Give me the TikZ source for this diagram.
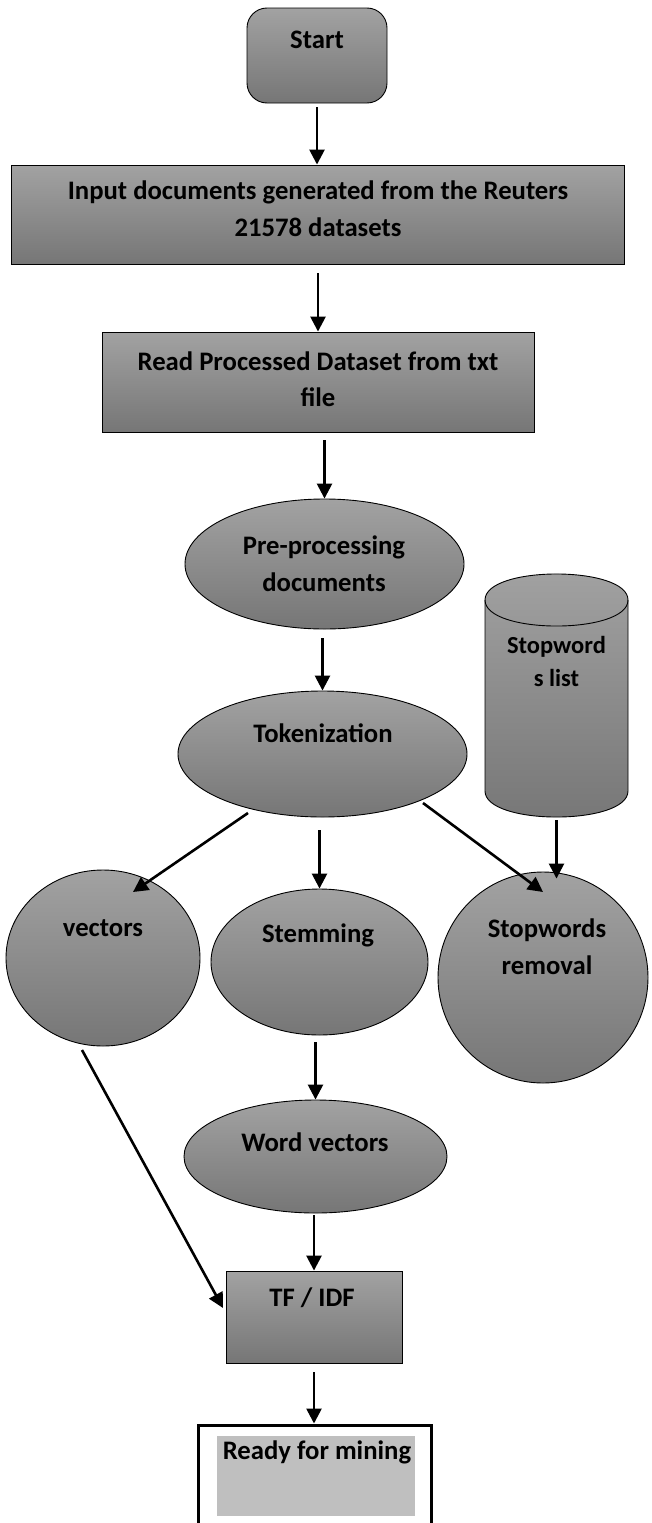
\documentclass[tikz,border=0pt]{standalone}
\usepackage{fontspec}
\setmainfont{Carlito}
\usetikzlibrary{arrows.meta,calc,shapes.geometric}
\definecolor{gtop}{RGB}{162,162,162}
\definecolor{gbot}{RGB}{118,118,118}
\definecolor{panel}{RGB}{191,191,191}

\begin{document}
\begin{tikzpicture}[x=1pt,y=-1pt,
  shaded/.style={draw=black, line width=0.9pt, top color=gtop, bottom color=gbot, inner sep=0pt},
  procbox/.style={shaded, rectangle},
  oval/.style={shaded, ellipse},
  lbl/.style={font=\fontsize{26.7}{37}\selectfont\bfseries, align=center, inner sep=0pt},
  arr/.style={line width=2.6pt, -{Triangle[length=15pt,width=15pt]}}
]
\useasboundingbox (0,0) rectangle (652,1523);
\clip (0,0) rectangle (652,1523);

% process boxes
\node[procbox, rounded corners=20pt, minimum width=140pt, minimum height=95pt] (start) at (317,55.5) {};
\node[procbox, minimum width=613pt, minimum height=99pt] (input) at (318,214.5) {};
\node[procbox, minimum width=432pt, minimum height=100pt] (read) at (318,382) {};
\node[procbox, minimum width=176pt, minimum height=92pt] (tf) at (314,1317) {};

% ovals
\node[oval, minimum width=279pt, minimum height=130pt] (pre) at (324.5,564) {};
\node[oval, minimum width=289pt, minimum height=126pt] (tok) at (322.5,754) {};
\node[oval, minimum width=194pt, minimum height=176pt] (vec) at (103,958) {};
\node[oval, minimum width=217pt, minimum height=146pt] (stem) at (319.5,962) {};
\node[oval, minimum width=210pt, minimum height=211pt] (swr) at (543,977.5) {};
\node[oval, minimum width=263pt, minimum height=113pt] (word) at (315.5,1156.5) {};

% stopword list store (vertical cylinder)
\path[shaded] (485,600) -- (485,791)
  .. controls (485,825.7) and (628,825.7) .. (628,791) -- (628,600)
  .. controls (628,565.3) and (485,565.3) .. (485,600) -- cycle;
\draw[line width=0.9pt] (485,600) .. controls (485,634.7) and (628,634.7) .. (628,600);
\node[inner sep=0pt, minimum width=143pt, minimum height=243pt] (swlist) at (556.5,695.5) {};

% output frame
\node[draw=black, line width=3pt, fill=white, inner sep=0pt, minimum width=233pt, minimum height=114pt] (ready) at (314.5,1482) {};
\node[fill=panel, inner sep=0pt, minimum width=198pt, minimum height=80pt] (panel) at (316,1476) {};

% labels
\node[lbl] (startT) at (317,40) {Start};
\node[lbl] (inputT) at (318,208.5) {Input documents generated from the Reuters\\21578 datasets};
\node[lbl, font=\fontsize{26.7}{36}\selectfont\bfseries] (readT) at (318,379) {Read Processed Dataset from txt\\file};
\node[lbl] (preT) at (324,563.5) {Pre-processing\\documents};
\node[lbl] (tokT) at (323,733) {Tokenization};
\node[lbl, font=\fontsize{24.5}{33}\selectfont\bfseries] (swlistT) at (556.5,661.5) {Stopword\\s list};
\node[lbl] (vecT) at (103,928) {vectors};
\node[lbl] (stemT) at (318,935) {Stemming};
\node[lbl] (swrT) at (547,946.5) {Stopwords\\removal};
\node[lbl] (wordT) at (315,1142) {Word vectors};
\node[lbl] (tfT) at (312,1298) {TF / IDF};
\node[lbl] (readyT) at (317,1452) {Ready for mining};

% connectors
\draw[arr, shorten <=4pt] (start.south) -- (start.south |- input.north);
\draw[arr, shorten <=9pt] (read.north |- input.south) -- (read.north);
\draw[arr, shorten <=8pt] (pre.north |- read.south) -- (pre.north);
\draw[arr, shorten <=9pt] (tok.north |- pre.south) -- (tok.north);
\draw[arr] ($(tok.center)+(-74.5,59)$) -- ($(vec.center)+(30,-66)$);
\draw[arr, shorten <=13pt] (stem.north |- tok.south) -- (stem.north);
\draw[arr] ($(tok.center)+(100.5,49)$) -- ($(swr.center)+(0,-85.5)$);
\draw[arr, shorten <=3pt] (swlist.south) -- ($(swlist.south |- swr.north)+(0,7)$);
\draw[arr, shorten <=7pt] (word.north |- stem.south) -- (word.north);
\draw[arr, shorten <=2pt] (tf.north |- word.south) -- (tf.north);
\draw[arr] ($(vec.center)+(-21,92)$) -- ($(tf.center)+(-91,-9)$);
\draw[arr, shorten <=9pt] (tf.south) -- (tf.south |- ready.north);
\end{tikzpicture}
\end{document}
